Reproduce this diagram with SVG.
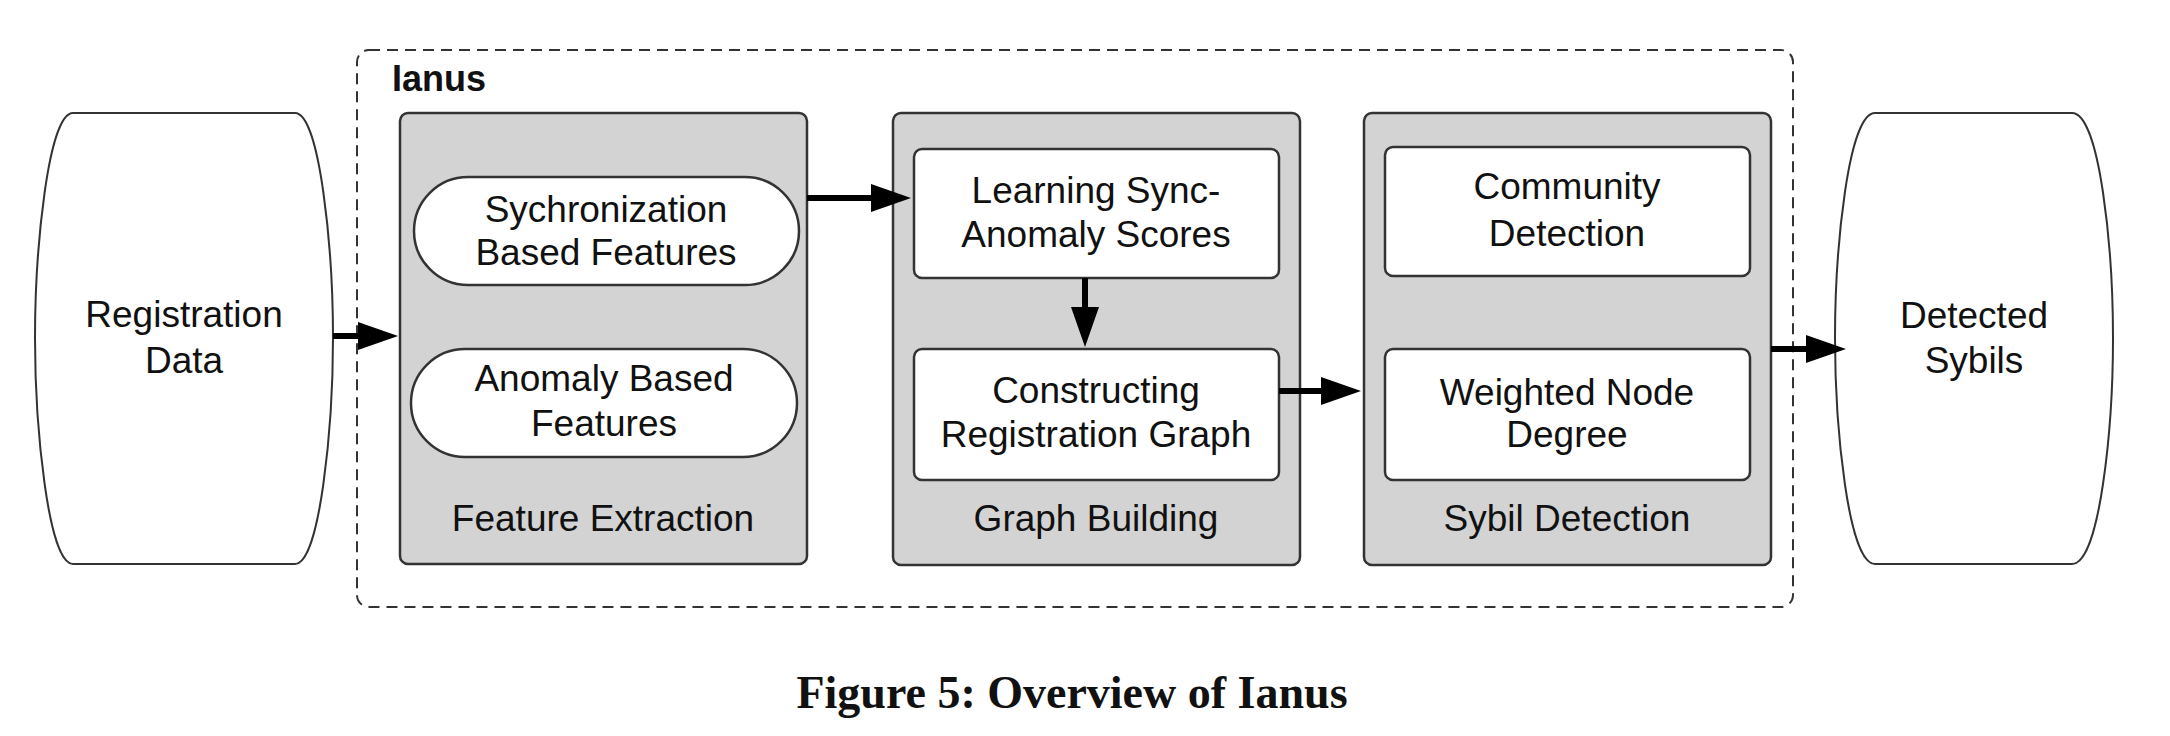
<svg xmlns="http://www.w3.org/2000/svg" width="2170" height="736" viewBox="0 0 2170 736">
<style>
.t{font-family:"Liberation Sans",Arial,Helvetica,sans-serif;font-size:37px;fill:#111;text-anchor:middle}
.group{fill:#d3d3d3;stroke:#333;stroke-width:2.5}
.inner{fill:#fff;stroke:#333;stroke-width:2.5}
.term{fill:#fff;stroke:#333;stroke-width:2}
.conn{stroke:#000;stroke-width:6;fill:none}
</style>
<defs>
<marker id="ah" viewBox="0 0 40 28" refX="0" refY="14" markerWidth="40" markerHeight="28" markerUnits="userSpaceOnUse" orient="auto">
<path d="M0,0 L40,14 L0,28 Z" fill="#000"/>
</marker>
</defs>
<rect width="2170" height="736" fill="#fff"/>

<g id="ianus">
<rect x="357" y="50" width="1436" height="557" rx="12" fill="none" stroke="#333" stroke-width="2" stroke-dasharray="11,7"/>
<text x="392" y="91" style="font-family:'Liberation Sans',Arial,sans-serif;font-size:36px;font-weight:bold;fill:#111">Ianus</text>
</g>

<g id="registration-data">
<path class="term" d="M73,113 H295 C320,113 333,250 333,338 C333,426 320,564 295,564 H73 C48,564 35,426 35,338 C35,250 48,113 73,113 Z"/>
<text class="t" x="184" y="327">Registration</text>
<text class="t" x="184" y="373">Data</text>
</g>

<g id="feature-extraction">
<rect class="group" x="400" y="113" width="407" height="451" rx="8"/>
<text class="t" x="603" y="531">Feature Extraction</text>
</g>
<g id="sync-features">
<rect class="inner" x="414" y="177" width="385" height="108" rx="54"/>
<text class="t" x="606" y="222">Sychronization</text>
<text class="t" x="606" y="265">Based Features</text>
</g>
<g id="anomaly-features">
<rect class="inner" x="411" y="349" width="386" height="108" rx="54"/>
<text class="t" x="604" y="391">Anomaly Based</text>
<text class="t" x="604" y="436">Features</text>
</g>

<g id="graph-building">
<rect class="group" x="893" y="113" width="407" height="452" rx="8"/>
<text class="t" x="1096" y="531">Graph Building</text>
</g>
<g id="learning-scores">
<rect class="inner" x="914" y="149" width="365" height="129" rx="8"/>
<text class="t" x="1096" y="203">Learning Sync-</text>
<text class="t" x="1096" y="247">Anomaly Scores</text>
</g>
<g id="constructing-graph">
<rect class="inner" x="914" y="349" width="365" height="131" rx="8"/>
<text class="t" x="1096" y="403">Constructing</text>
<text class="t" x="1096" y="447">Registration Graph</text>
</g>

<g id="sybil-detection">
<rect class="group" x="1364" y="113" width="407" height="452" rx="8"/>
<text class="t" x="1567" y="531">Sybil Detection</text>
</g>
<g id="community-detection">
<rect class="inner" x="1385" y="147" width="365" height="129" rx="8"/>
<text class="t" x="1567" y="199">Community</text>
<text class="t" x="1567" y="246">Detection</text>
</g>
<g id="weighted-degree">
<rect class="inner" x="1385" y="349" width="365" height="131" rx="8"/>
<text class="t" x="1567" y="405">Weighted Node</text>
<text class="t" x="1567" y="447">Degree</text>
</g>

<g id="detected-sybils">
<path class="term" d="M1875,113 H2072 C2100,113 2113,250 2113,338 C2113,426 2100,564 2072,564 H1875 C1848,564 1835,426 1835,338 C1835,250 1848,113 1875,113 Z"/>
<text class="t" x="1974" y="328">Detected</text>
<text class="t" x="1974" y="373">Sybils</text>
</g>

<g id="connectors">
<path class="conn" d="M333,336 H358" marker-end="url(#ah)"/>
<path class="conn" d="M807,198 H871" marker-end="url(#ah)"/>
<path class="conn" d="M1085,278 V307" marker-end="url(#ah)"/>
<path class="conn" d="M1279,391 H1321" marker-end="url(#ah)"/>
<path class="conn" d="M1771,349 H1806" marker-end="url(#ah)"/>
</g>

<text x="1072" y="708" style="font-family:'Liberation Serif','Times New Roman',serif;font-size:46px;font-weight:bold;fill:#111;text-anchor:middle">Figure 5: Overview of Ianus</text>
</svg>
